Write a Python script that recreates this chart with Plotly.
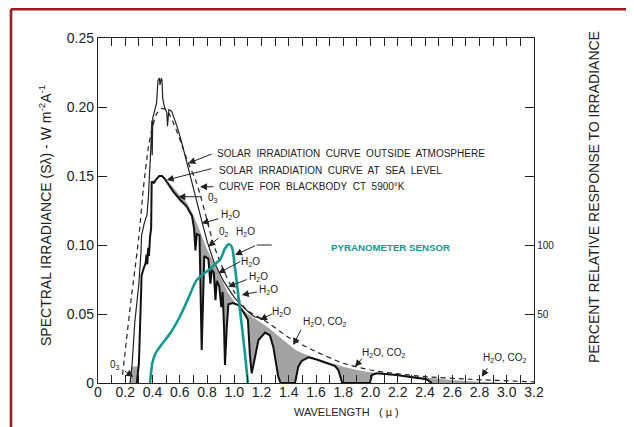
import plotly.graph_objects as go

# ---------------- data ----------------
# Blackbody 5900 K curve (dashed), W m-2 A-1
wl_blackbody = [0.18, 0.24, 0.30, 0.333, 0.37, 0.394, 0.43, 0.47, 0.51, 0.56, 0.61, 0.66, 0.72,
                0.76, 0.80, 0.85, 0.92, 1.00, 1.09, 1.21, 1.41, 1.60, 1.80, 2.00, 2.10, 2.40,
                2.73, 3.15, 3.20]
s_blackbody = [0.006, 0.058, 0.106, 0.141, 0.171, 0.183, 0.195, 0.199, 0.197, 0.187, 0.174, 0.160,
               0.146, 0.133, 0.118, 0.100, 0.082, 0.066, 0.053, 0.0462, 0.0324, 0.0227, 0.0143,
               0.0094, 0.0078, 0.0046, 0.0027, 0.0010, 0.0008]

# Solar irradiation outside atmosphere (thin solid)
wl_outside = [0.235, 0.25, 0.27, 0.30, 0.315, 0.32, 0.34, 0.36, 0.37, 0.38, 0.39, 0.395, 0.398,
              0.402, 0.42, 0.43, 0.44, 0.45, 0.455, 0.465, 0.47, 0.475, 0.49, 0.505, 0.51, 0.52,
              0.54, 0.58, 0.61, 0.65, 0.69, 0.72, 0.76, 0.80, 0.85, 0.92, 1.00, 1.06, 1.12,
              1.15, 1.21]
s_outside = [0.000, 0.013, 0.044, 0.072, 0.094, 0.107, 0.116, 0.122, 0.135, 0.152, 0.175, 0.190,
             0.165, 0.192, 0.200, 0.203, 0.219, 0.221, 0.216, 0.221, 0.219, 0.206, 0.199, 0.196,
             0.186, 0.198, 0.197, 0.186, 0.176, 0.160, 0.145, 0.133, 0.118, 0.103, 0.088, 0.074,
             0.062, 0.0555, 0.050, 0.048, 0.0462]

# Solar irradiation at sea level (thick solid)
wl_sea = [0.285, 0.300, 0.310, 0.320, 0.335, 0.350, 0.356, 0.362, 0.368, 0.374, 0.382, 0.390,
          0.394, 0.410, 0.430, 0.450, 0.470, 0.490, 0.510, 0.550, 0.600, 0.650, 0.690, 0.705,
          0.715, 0.725, 0.745, 0.761, 0.780, 0.810, 0.825, 0.835, 0.850, 0.862, 0.872, 0.890,
          0.905, 0.915, 0.925, 0.932, 0.945, 0.957, 0.990, 1.030, 1.070, 1.100, 1.115, 1.128,
          1.145, 1.177, 1.226, 1.262, 1.287, 1.323, 1.340, 1.446, 1.470, 1.495, 1.545, 1.605,
          1.740, 1.764, 1.792, 1.996, 2.010, 2.045, 2.190, 2.290, 2.410, 2.450]
s_sea = [0.000, 0.014, 0.045, 0.078, 0.083, 0.087, 0.093, 0.086, 0.098, 0.092, 0.106, 0.112,
         0.146, 0.145, 0.148, 0.150, 0.150, 0.148, 0.145, 0.139, 0.133, 0.128, 0.121, 0.112,
         0.096, 0.108, 0.107, 0.024, 0.092, 0.090, 0.072, 0.082, 0.080, 0.060, 0.074, 0.070,
         0.055, 0.066, 0.040, 0.013, 0.040, 0.057, 0.058, 0.0565, 0.051, 0.046, 0.020, 0.007,
         0.015, 0.031, 0.0365, 0.0345, 0.026, 0.0046, 0.000, 0.000, 0.0118, 0.0160, 0.0186,
         0.0170, 0.0123, 0.0094, 0.000, 0.000, 0.0058, 0.0070, 0.0058, 0.0046, 0.0027, 0.000]

# Upper edge of the shaded absorption area
wl_envelope = [0.49, 0.55, 0.60, 0.65, 0.70, 0.75, 0.80, 0.85, 0.90, 0.95, 1.00, 1.05, 1.10,
               1.15, 1.20, 1.25, 1.30, 1.35, 1.40, 1.45, 1.50, 1.55, 1.60, 1.70, 1.80, 1.90,
               2.00, 2.10, 2.20, 2.30, 2.40, 2.50, 2.60, 2.70, 2.80, 2.90, 3.00]
s_envelope = [0.148, 0.142, 0.136, 0.131, 0.122, 0.109, 0.097, 0.087, 0.076, 0.066, 0.059,
              0.054, 0.050, 0.047, 0.0435, 0.040, 0.036, 0.0315, 0.0275, 0.024, 0.0215, 0.0195,
              0.018, 0.0148, 0.0118, 0.0094, 0.0078, 0.0068, 0.0059, 0.0046, 0.0036, 0.0028,
              0.0021, 0.0015, 0.0010, 0.0005, 0.0]

# Small ozone absorption patch at the short-wave end
wl_o3_patch = [0.235, 0.285, 0.297, 0.249, 0.235]
s_o3_patch = [0.000, 0.000, 0.012, 0.012, 0.000]

# Pyranometer sensor relative response (percent)
wl_sensor = [0.382, 0.39, 0.40, 0.42, 0.46, 0.53, 0.60, 0.67, 0.72, 0.76, 0.80, 0.87, 0.90,
             0.93, 0.957, 0.98, 1.006, 1.042, 1.079, 1.10]
pct_sensor = [0, 8, 15, 21, 27, 36, 48, 63, 74, 78, 81, 87, 90, 97, 100.5, 99, 83, 53, 21, 0]

x_tick_vals = [0.0, 0.1, 0.2, 0.3, 0.4, 0.5, 0.6, 0.7, 0.8, 0.9, 1.0, 1.1, 1.2, 1.3, 1.4, 1.5,
               1.6, 1.7, 1.8, 1.9, 2.0, 2.1, 2.2, 2.3, 2.4, 2.5, 2.6, 2.7, 2.8, 2.9, 3.0, 3.1, 3.2]
x_tick_text = ["0", "", "0.2", "", "0.4", "", "0.6", "", "0.8", "", "1.0", "", "1.2", "", "1.4",
               "", "1.6", "", "1.8", "", "2.0", "", "2.2", "", "2.4", "", "2.6", "", "2.8", "",
               "3.0", "", "3.2"]
y_tick_vals = [0, 0.05, 0.10, 0.15, 0.20, 0.25]
y_tick_text = ["0", "0.05", "0.10", "0.15", "0.20", "0.25"]
y2_tick_vals = [50, 100, 150, 200]
y2_tick_text = ["50", "100", "", ""]

# ---------------- styling ----------------
FONT = "Liberation Sans, Arial, sans-serif"
INK = "#222222"
GREY = "#a3a3a3"
TEAL = "#119a92"
RED = "#9b1c22"

fig = go.Figure()

# shaded absorption area: envelope forward, sea-level curve back
band_x = list(wl_envelope) + [w for w in reversed(wl_sea) if w >= 0.49]
band_y = list(s_envelope) + [s for w, s in zip(reversed(wl_sea), reversed(s_sea)) if w >= 0.49]
fig.add_trace(go.Scatter(x=band_x, y=band_y, mode="lines", fill="toself", fillcolor=GREY,
                         line=dict(width=0), hoverinfo="skip", showlegend=False))
fig.add_trace(go.Scatter(x=wl_o3_patch, y=s_o3_patch, mode="lines", fill="toself",
                         fillcolor=GREY, line=dict(width=0), hoverinfo="skip", showlegend=False))

fig.add_trace(go.Scatter(x=wl_blackbody, y=s_blackbody, mode="lines",
                         line=dict(color=INK, width=1.2, dash="5px,4px", shape="spline",
                                   smoothing=0.6), showlegend=False))
fig.add_trace(go.Scatter(x=wl_outside, y=s_outside, mode="lines",
                         line=dict(color=INK, width=1.2), showlegend=False))
fig.add_trace(go.Scatter(x=wl_sea, y=s_sea, mode="lines",
                         line=dict(color="#111111", width=2.0), showlegend=False))
fig.add_trace(go.Scatter(x=wl_sensor, y=pct_sensor, mode="lines", yaxis="y2",
                         line=dict(color=TEAL, width=2.6, shape="spline", smoothing=0.8),
                         showlegend=False))


def label(x, y, text, size=10, anchor="center", color=INK, bold=False):
    return dict(x=x, y=y, xref="x", yref="y", text=("<b>%s</b>" % text) if bold else text,
                showarrow=False, xanchor=anchor, yanchor="middle",
                font=dict(family=FONT, size=size, color=color))


def arrow(tip, tail):
    return dict(x=tip[0], y=tip[1], ax=tail[0], ay=tail[1], xref="x", yref="y",
                axref="x", ayref="y", text="", showarrow=True, arrowhead=2,
                arrowsize=1.4, arrowwidth=1, arrowcolor=INK)


H2O = "H<sub>2</sub>O"
H2OCO2 = "H<sub>2</sub>O, CO<sub>2</sub>"
ann = [
    label(0.859, 0.1664, "SOLAR&nbsp; IRRADIATION&nbsp; CURVE&nbsp; OUTSIDE&nbsp; ATMOSPHERE", anchor="left"),
    arrow((0.663, 0.1592), (0.846, 0.1664)),
    label(0.873, 0.1543, "SOLAR&nbsp; IRRADIATION&nbsp; CURVE&nbsp; AT&nbsp; SEA&nbsp; LEVEL", anchor="left"),
    arrow((0.504, 0.1471), (0.844, 0.1556)),
    label(0.873, 0.1422, "CURVE&nbsp; FOR&nbsp; BLACKBODY&nbsp; CT&nbsp; 5900°K", anchor="left"),
    arrow((0.749, 0.1422), (0.859, 0.1422)),
    label(0.793, 0.1340, "0<sub>3</sub>", anchor="left"),
    arrow((0.589, 0.1350), (0.773, 0.1350)),
    label(0.969, 0.1217, H2O),
    arrow((0.761, 0.1157), (0.895, 0.1193)),
    label(0.925, 0.1096, "0<sub>2</sub>"),
    label(1.079, 0.1094, H2O),
    arrow((0.810, 0.0988), (0.895, 0.1060)),
    arrow((1.006, 0.0928), (1.165, 0.1000)),
    label(1.121, 0.0879, H2O),
    arrow((0.883, 0.0795), (1.055, 0.0886)),
    label(1.177, 0.0770, H2O),
    arrow((0.956, 0.0698), (1.103, 0.0754)),
    label(1.250, 0.0674, H2O),
    arrow((1.055, 0.0638), (1.177, 0.0662)),
    label(1.350, 0.0517, H2O),
    arrow((1.189, 0.0457), (1.287, 0.0505)),
    label(1.666, 0.0442, H2OCO2),
    arrow((1.433, 0.0275), (1.495, 0.0396)),
    label(2.099, 0.0215, H2OCO2),
    arrow((1.886, 0.0118), (1.947, 0.0188)),
    label(2.980, 0.0179, H2OCO2),
    arrow((2.816, 0.0046), (2.865, 0.0118)),
    label(0.125, 0.0130, "0<sub>3</sub>"),
    arrow((0.259, 0.0046), (0.186, 0.0094)),
    label(2.149, 0.0980, "PYRANOMETER SENSOR", size=9.7, color=TEAL, bold=True),
    # axis titles
    dict(x=-0.1216, y=0.487, xref="paper", yref="paper", showarrow=False, textangle=-90,
         xanchor="center", yanchor="middle",
         text="SPECTRAL IRRADIANCE (Sλ) - W m<sup>-2</sup>A<sup>-1</sup>",
         font=dict(family=FONT, size=14, color=INK)),
    dict(x=1.136, y=0.54, xref="paper", yref="paper", showarrow=False, textangle=-90,
         xanchor="center", yanchor="middle",
         text="PERCENT RELATIVE RESPONSE TO IRRADIANCE",
         font=dict(family=FONT, size=14, color=INK)),
    dict(x=0.571, y=-0.084, xref="paper", yref="paper", showarrow=False,
         xanchor="center", yanchor="middle",
         text="WAVELENGTH&nbsp;&nbsp; ( µ )", font=dict(family=FONT, size=11, color=INK)),
]

shapes = [
    dict(type="line", xref="x", yref="y", x0=1.165, y0=0.1, x1=1.275, y1=0.1,
         line=dict(color=INK, width=1)),
    dict(type="line", xref="paper", yref="paper", x0=-0.1995, y0=1.0832, x1=1.25, y1=1.0832,
         line=dict(color=RED, width=2.6)),
    dict(type="line", xref="paper", yref="paper", x0=-0.1995, y0=1.0832, x1=-0.1995, y1=-0.15,
         line=dict(color=RED, width=2.6)),
]

fig.update_layout(
    width=626, height=419,
    margin=dict(l=90, r=100, t=30, b=44),
    paper_bgcolor="white", plot_bgcolor="white",
    font=dict(family=FONT, color=INK),
    showlegend=False,
    annotations=ann, shapes=shapes,
    xaxis=dict(range=[0, 3.2], tickvals=x_tick_vals, ticktext=x_tick_text, ticks="inside",
               ticklen=8, tickwidth=1, tickcolor=INK, showline=True, linecolor=INK,
               linewidth=1.3, mirror="ticks", showgrid=False, zeroline=False,
               ticklabelstandoff=-4,
               tickfont=dict(family=FONT, size=14, color=INK)),
    yaxis=dict(range=[0, 0.25], tickvals=y_tick_vals, ticktext=y_tick_text, ticks="inside",
               ticklen=9, tickwidth=1, tickcolor=INK, showline=True, linecolor=INK,
               linewidth=1.3, showgrid=False, zeroline=False,
               tickfont=dict(family=FONT, size=14, color=INK)),
    yaxis2=dict(range=[0, 250], overlaying="y", side="right", tickvals=y2_tick_vals,
                ticktext=y2_tick_text, ticks="inside", ticklen=9, tickwidth=1, tickcolor=INK,
                showline=True, linecolor=INK, linewidth=1.3, showgrid=False, zeroline=False,
                tickfont=dict(family=FONT, size=10, color=INK)),
)

fig.write_html("out.html")
